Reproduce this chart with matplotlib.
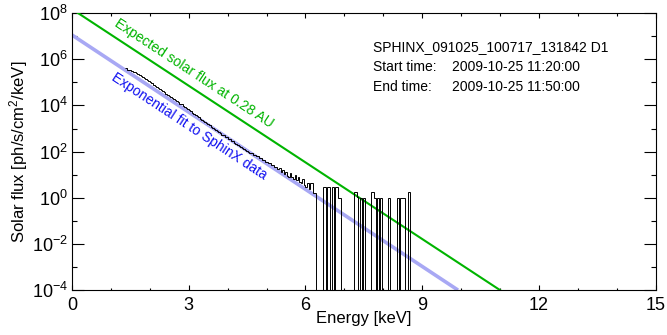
import numpy as np
import matplotlib
matplotlib.use("Agg")
import matplotlib.pyplot as plt
from matplotlib.ticker import LogLocator, LogFormatterSciNotation, MultipleLocator, NullFormatter

plt.rcParams['font.family'] = ['Liberation Sans', 'DejaVu Sans']
plt.rcParams['mathtext.fontset'] = 'custom'
plt.rcParams['mathtext.rm'] = 'Liberation Sans'
plt.rcParams['mathtext.it'] = 'Liberation Sans:italic'
plt.rcParams['axes.unicode_minus'] = False

# SphinX spectrum, log10 of flux per 0.04 keV bin starting at 1.36 keV (None = empty bin)
e_start = 1.36
bin_w = 0.04
log_flux = [
    5.62, 5.55, 5.54, 5.52, 5.49, 5.46, 5.43, 5.39, 5.36, 5.31,
    5.28, 5.23, 5.19, 5.14, 5.09, 5.04, 5.00, 4.95, 4.90, 4.85,
    4.80, 4.76, 4.70, 4.66, 4.61, 4.56, 4.51, 4.47, 4.41, 4.37,
    4.33, 4.27, 4.23, 4.18, 4.13, 4.08, 4.04, 3.98, 3.94, 3.90,
    3.84, 3.80, 3.74, 3.69, 3.64, 3.59, 3.53, 3.49, 3.43, 3.38,
    3.34, 3.28, 3.23, 3.18, 3.13, 3.08, 3.03, 2.98, 2.93, 2.89,
    2.83, 2.80, 2.74, 2.71, 2.65, 2.62, 2.56, 2.53, 2.47, 2.44,
    2.38, 2.35, 2.28, 2.26, 2.19, 2.17, 2.10, 2.08, 2.03, 1.98,
    1.95, 1.92, 1.87, 1.86, 1.80, 1.79, 1.72, 1.71, 1.65, 1.64,
    1.57, 1.56, 1.49, 1.50, 1.41, 1.43, 1.33, 1.35, 1.24, 1.29,
    1.13, 1.19, 1.05, 1.12, 0.96, 0.90, 1.06, 0.92, 0.83, 0.98,
    0.79, 0.92, 0.70, 0.66, 0.81, 0.57, 0.48, 0.62, 0.36, 0.66,
    0.66, 0.19, 0.19,
    None, None, None, None, 0.45, 0.45, None, 0.45, 0.45, None,
    0.45, None, 0.45, 0.45, -0.02, -0.02,
    None, None, None, None, None, None, None, None,
    0.26, 0.26, 0.04, None, 0.0, None, 0.0,
    None, None, None, None,
    0.26, 0.26, 0.0, None, 0.0, None, 0.0,
    None, None, None, None,
    0.0,
    None, None, None, None, None,
    0.0, None, 0.0, 0.0, 0.0, None, None, 0.26, None,
]

# model lines (endpoints)
expected_e = [0.0, 11.0]
expected_flux = [1.48e8, 1.0e-4]
fit_e = [0.0, 9.92]
fit_flux = [1.12e7, 1.0e-4]

info_lines = [("SPHINX_091025_100717_131842 D1", ""),
              ("Start time:", "2009-10-25 11:20:00"),
              ("End time:", "2009-10-25 11:50:00")]

vals = np.array(log_flux, dtype=float)
flux = np.where(np.isnan(vals), 1e-7, 10.0 ** vals)
edges = e_start + bin_w * np.arange(len(flux) + 1)

fig = plt.figure(figsize=(6.67, 3.35), dpi=100)
ax = fig.add_axes([0.108, 0.134, 0.875, 0.827])

green = '#00b400'
ax.plot(fit_e, fit_flux, color='#a8a8f4', lw=2.6, solid_capstyle='butt', zorder=2)
ax.plot(expected_e, expected_flux, color=green, lw=1.5, zorder=3)
ax.stairs(flux, edges, baseline=None, color='black', lw=0.7, zorder=4)

ax.set_yscale('log')
ax.set_xlim(0, 15)
ax.set_ylim(1e-4, 1e8)

ax.xaxis.set_major_locator(MultipleLocator(3))
ax.xaxis.set_minor_locator(MultipleLocator(1))
ax.yaxis.set_major_locator(LogLocator(base=100.0, numticks=20))
ax.yaxis.set_major_formatter(LogFormatterSciNotation(base=10.0))
ax.yaxis.set_minor_locator(LogLocator(base=10.0, numticks=20))
ax.yaxis.set_minor_formatter(NullFormatter())

ax.tick_params(axis='x', which='major', direction='in', length=3.6, width=0.8,
               top=True, pad=5, labelsize=13)
ax.tick_params(axis='x', which='minor', direction='in', length=1.8, width=0.8, top=True)
ax.tick_params(axis='y', which='major', direction='in', length=8.6, width=0.8,
               right=True, pad=3, labelsize=13)
ax.tick_params(axis='y', which='minor', direction='in', length=3.6, width=0.8, right=True)
for s in ax.spines.values():
    s.set_linewidth(0.8)

ax.set_xlabel("Energy [keV]", fontsize=12, labelpad=-2)
ax.set_ylabel("Solar flux [ph/s/cm$^2$/keV]", fontsize=12, labelpad=1)

# rotated labels along the lines
ang = -33.3
ax.annotate("Expected solar flux at 0.28 AU", xy=(0.95, 10 ** (8.17 - 1.106 * 0.95)),
            xytext=(2.5, 3.8), textcoords='offset points', rotation=ang,
            rotation_mode='anchor', ha='left', va='bottom', color=green, fontsize=10)
ax.annotate("Exponential fit to SphinX data", xy=(1.22, 10 ** (7.05 - 1.114 * 1.22)),
            xytext=(-2.0, -3.0), textcoords='offset points', rotation=ang,
            rotation_mode='anchor', ha='left', va='top', color='#1010f0', fontsize=10)

for i, (a, b) in enumerate(info_lines):
    y = 1 - (47 - 13 + 20 * i) / 277.0
    ax.text(0.515, y, a, transform=ax.transAxes, fontsize=10, va='center', ha='left')
    if b:
        ax.text(0.651, y, b, transform=ax.transAxes, fontsize=10, va='center', ha='left')

fig.savefig("out.png", dpi=100)
